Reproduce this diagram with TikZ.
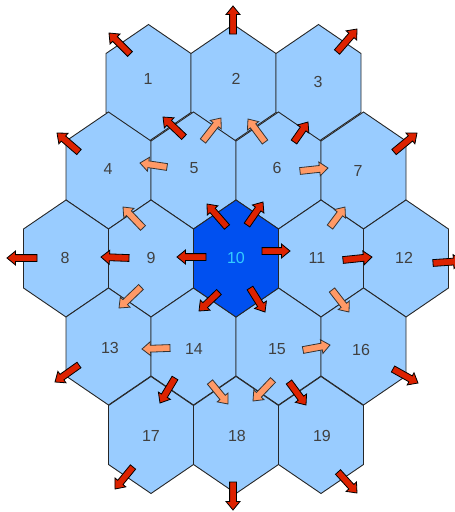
\documentclass[tikz,border=0pt]{standalone}
\usepackage{fontspec}
\setmainfont{Liberation Sans}
\definecolor{hexfill}{HTML}{99CCFF}
\definecolor{hexdark}{HTML}{0050F0}
\definecolor{labcyan}{HTML}{33CCFF}
\definecolor{arrdark}{HTML}{DD2200}
\definecolor{arrlight}{HTML}{FF9966}
\definecolor{labgray}{HTML}{404040}
\tikzset{
  hexcell/.style={fill=hexfill, draw=black!85, line width=0.9pt, line join=miter},
  hexcentre/.style={hexcell, fill=hexdark},
  celllabel/.style={text=labgray, font=\fontsize{16}{19}\selectfont, inner sep=0pt},
  centrelabel/.style={celllabel, text=labcyan},
  arrowdark/.style={fill=arrdark, draw=black, line width=0.8pt, line join=miter},
  arrowlight/.style={fill=arrlight, draw=black!80, line width=0.8pt, line join=miter},
}
\newcommand\hexshape[3]{\path[#1] (#2,#3-58.5) -- (#2+42.5,#3-29.5) -- (#2+42.5,#3+29.5) -- (#2,#3+58.5) -- (#2-42.5,#3+29.5) -- (#2-42.5,#3-29.5) -- cycle;}
\newcommand\blockarr[5]{%
  \pgfmathsetmacro\myarrang{atan2(-(#5-#3),#4-#2)}%
  \pgfmathsetmacro\myarrlen{veclen(#4-#2,#5-#3)}%
  \begin{scope}[shift={(#2,#3)}, rotate=\myarrang]
    \path[#1] (0,-3.4) -- (\myarrlen-8.5,-3.4) -- (\myarrlen-8.5,-7) -- (\myarrlen,0) -- (\myarrlen-8.5,7) -- (\myarrlen-8.5,3.4) -- (0,3.4) -- cycle;
  \end{scope}}
\begin{document}
\begin{tikzpicture}[x=1pt,y=-1pt]
\useasboundingbox (0,0) rectangle (455,512);
\clip (0,0) rectangle (455,512);
% row A
\hexshape{hexcell}{148.5}{83}
\hexshape{hexcell}{233.5}{83}
\hexshape{hexcell}{318.5}{83}
% row B
\hexshape{hexcell}{108.5}{170.5}
\hexshape{hexcell}{193.5}{170.5}
\hexshape{hexcell}{278.5}{170.5}
\hexshape{hexcell}{363.5}{170.5}
% row C
\hexshape{hexcell}{66}{258.5}
\hexshape{hexcell}{151}{258.5}
\hexshape{hexcell}{321}{258.5}
\hexshape{hexcell}{406}{258.5}
% row D
\hexshape{hexcell}{108.5}{346.5}
\hexshape{hexcell}{193.5}{346.5}
\hexshape{hexcell}{278.5}{346.5}
\hexshape{hexcell}{363.5}{346.5}
% row E
\hexshape{hexcell}{151}{435}
\hexshape{hexcell}{236}{435}
\hexshape{hexcell}{321}{435}
% centre
\hexshape{hexcentre}{236}{258.5}
% labels
\node[celllabel] (c1) at (148,79) {1};
\node[celllabel] (c2) at (236,79) {2};
\node[celllabel] (c3) at (318,82) {3};
\node[celllabel] (c4) at (108,169) {4};
\node[celllabel] (c5) at (194,168) {5};
\node[celllabel] (c6) at (277,168) {6};
\node[celllabel] (c7) at (358,171) {7};
\node[celllabel] (c8) at (65,258) {8};
\node[celllabel] (c9) at (151,258) {9};
\node[centrelabel] (c10) at (236,258) {10};
\node[celllabel] (c11) at (317,258) {11};
\node[celllabel] (c12) at (404,258) {12};
\node[celllabel] (c13) at (110,348) {13};
\node[celllabel] (c14) at (194,349) {14};
\node[celllabel] (c15) at (277,349) {15};
\node[celllabel] (c16) at (361,350) {16};
\node[celllabel] (c17) at (151,436) {17};
\node[celllabel] (c18) at (237,436) {18};
\node[celllabel] (c19) at (322,436) {19};
% dark arrows
\blockarr{arrowdark}{130}{54}{109}{33}
\blockarr{arrowdark}{233}{34}{233}{6}
\blockarr{arrowdark}{337}{52}{357}{29}
\blockarr{arrowdark}{184}{137}{163}{117}
\blockarr{arrowdark}{79}{152}{57}{133}
\blockarr{arrowdark}{227}{227}{207}{204}
\blockarr{arrowdark}{129}{258}{101}{257}
\blockarr{arrowdark}{37}{258}{7}{258}
\blockarr{arrowdark}{206}{257}{177}{257}
\blockarr{arrowdark}{219}{292}{199}{311}
\blockarr{arrowdark}{294}{142}{308}{122}
\blockarr{arrowdark}{394}{152}{417}{133}
\blockarr{arrowdark}{247}{225}{263}{202}
\blockarr{arrowdark}{262}{251}{290}{251}
\blockarr{arrowdark}{343}{260}{372}{257}
\blockarr{arrowdark}{433}{263}{462}{261}
\blockarr{arrowdark}{250}{288}{265}{312}
\blockarr{arrowdark}{393}{369}{418}{383}
\blockarr{arrowdark}{289}{382}{306}{405}
\blockarr{arrowdark}{338}{472}{357}{493}
\blockarr{arrowdark}{233}{482}{233}{510}
\blockarr{arrowdark}{79}{365}{55}{382}
\blockarr{arrowdark}{175}{378}{160}{403}
\blockarr{arrowdark}{133}{467}{115}{489}
% light arrows
\blockarr{arrowlight}{203}{141}{221}{118}
\blockarr{arrowlight}{167}{167}{140}{163}
\blockarr{arrowlight}{143}{228}{123}{207}
\blockarr{arrowlight}{141}{287}{119}{308}
\blockarr{arrowlight}{265}{142}{248}{119}
\blockarr{arrowlight}{300}{171}{328}{168}
\blockarr{arrowlight}{330}{227}{345}{207}
\blockarr{arrowlight}{332}{290}{349}{312}
\blockarr{arrowlight}{303}{350}{330}{345}
\blockarr{arrowlight}{273}{380}{253}{401}
\blockarr{arrowlight}{170}{348}{142}{349}
\blockarr{arrowlight}{210}{382}{228}{404}
\end{tikzpicture}
\end{document}
